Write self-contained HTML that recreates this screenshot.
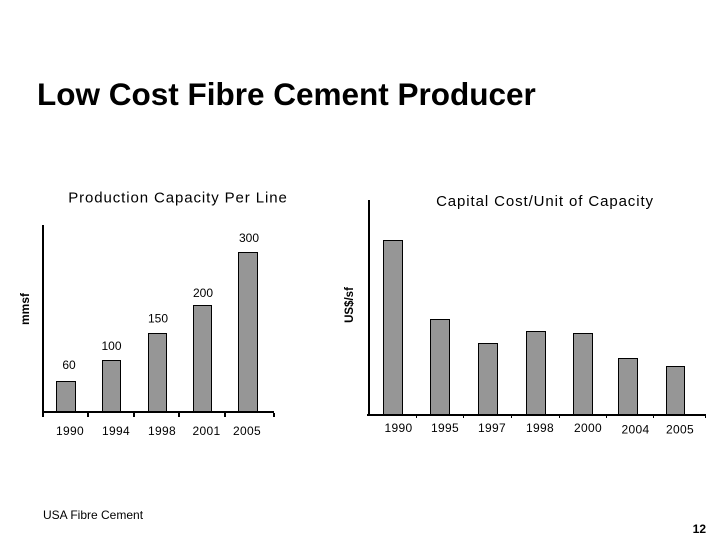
<!DOCTYPE html>
<html><head><meta charset="utf-8"><style>
html,body{margin:0;padding:0;background:#fff;}
svg{display:block;}
text{font-family:"Liberation Sans",Arial,sans-serif;fill:#000;}
</style></head><body>
<svg width="720" height="540" viewBox="0 0 720 540" xmlns="http://www.w3.org/2000/svg">
<rect width="720" height="540" fill="#fff"/>
<text x="37" y="105" font-size="31.5" font-weight="bold">Low Cost Fibre Cement Producer</text>

<!-- Left chart -->
<text x="178" y="202.5" font-size="15" text-anchor="middle" letter-spacing="0.9">Production Capacity Per Line</text>
<text transform="translate(29,309) rotate(-90)" font-size="12" font-weight="bold" text-anchor="middle">mmsf</text>
<g fill="#969696" stroke="#000" stroke-width="1">
<rect x="56.5" y="381.5" width="19" height="31"/>
<rect x="102.5" y="360.5" width="18" height="52"/>
<rect x="148.5" y="333.5" width="18" height="79"/>
<rect x="193.5" y="305.5" width="18" height="107"/>
<rect x="238.5" y="252.5" width="19" height="160"/>
</g>
<rect x="42" y="225" width="2" height="188" fill="#000"/>
<rect x="42" y="411" width="232" height="2" fill="#000"/>
<g fill="#000">
<rect x="42" y="413" width="2" height="4"/>
<rect x="87" y="413" width="2" height="4"/>
<rect x="133" y="413" width="2" height="4"/>
<rect x="178" y="413" width="2" height="4"/>
<rect x="224" y="413" width="2" height="4"/>
<rect x="273" y="413" width="2" height="4"/>
</g>
<g font-size="12" text-anchor="middle">
<text x="69" y="369">60</text>
<text x="111.5" y="350">100</text>
<text x="158" y="322.5">150</text>
<text x="203" y="297">200</text>
<text x="249" y="242">300</text>
<text x="70" y="435" letter-spacing="0.3">1990</text>
<text x="116" y="435" letter-spacing="0.3">1994</text>
<text x="162" y="435" letter-spacing="0.3">1998</text>
<text x="206.5" y="435" letter-spacing="0.3">2001</text>
<text x="247" y="435" letter-spacing="0.3">2005</text>
</g>

<!-- Right chart -->
<text x="545" y="206" font-size="15" text-anchor="middle" letter-spacing="0.9">Capital Cost/Unit of Capacity</text>
<text transform="translate(353,305) rotate(-90)" font-size="11.5" font-weight="bold" text-anchor="middle">US$/sf</text>
<g fill="#969696" stroke="#000" stroke-width="1">
<rect x="383.5" y="240.5" width="19" height="174"/>
<rect x="430.5" y="319.5" width="19" height="95"/>
<rect x="478.5" y="343.5" width="19" height="71"/>
<rect x="526.5" y="331.5" width="19" height="83"/>
<rect x="573.5" y="333.5" width="19" height="81"/>
<rect x="618.5" y="358.5" width="19" height="56"/>
<rect x="666.5" y="366.5" width="18" height="48"/>
</g>
<rect x="368" y="200" width="2" height="216" fill="#000"/>
<rect x="367" y="414" width="339" height="2" fill="#000"/>
<g fill="#000">
<rect x="416" y="416" width="1" height="2"/>
<rect x="463" y="416" width="1" height="2"/>
<rect x="511" y="416" width="1" height="2"/>
<rect x="559" y="416" width="1" height="2"/>
<rect x="606" y="416" width="1" height="2"/>
<rect x="653" y="416" width="1" height="2"/>
<rect x="705" y="416" width="1" height="2"/>
</g>
<g font-size="12" text-anchor="middle" letter-spacing="0.3">
<text x="398.5" y="432">1990</text>
<text x="445" y="432">1995</text>
<text x="492" y="432">1997</text>
<text x="540" y="432">1998</text>
<text x="588" y="432">2000</text>
<text x="635.5" y="433.5">2004</text>
<text x="680" y="433.5">2005</text>
</g>

<!-- Footer -->
<text x="43" y="519" font-size="12">USA Fibre Cement</text>
<text x="706" y="533" font-size="12" font-weight="bold" text-anchor="end">12</text>
</svg>
</body></html>
